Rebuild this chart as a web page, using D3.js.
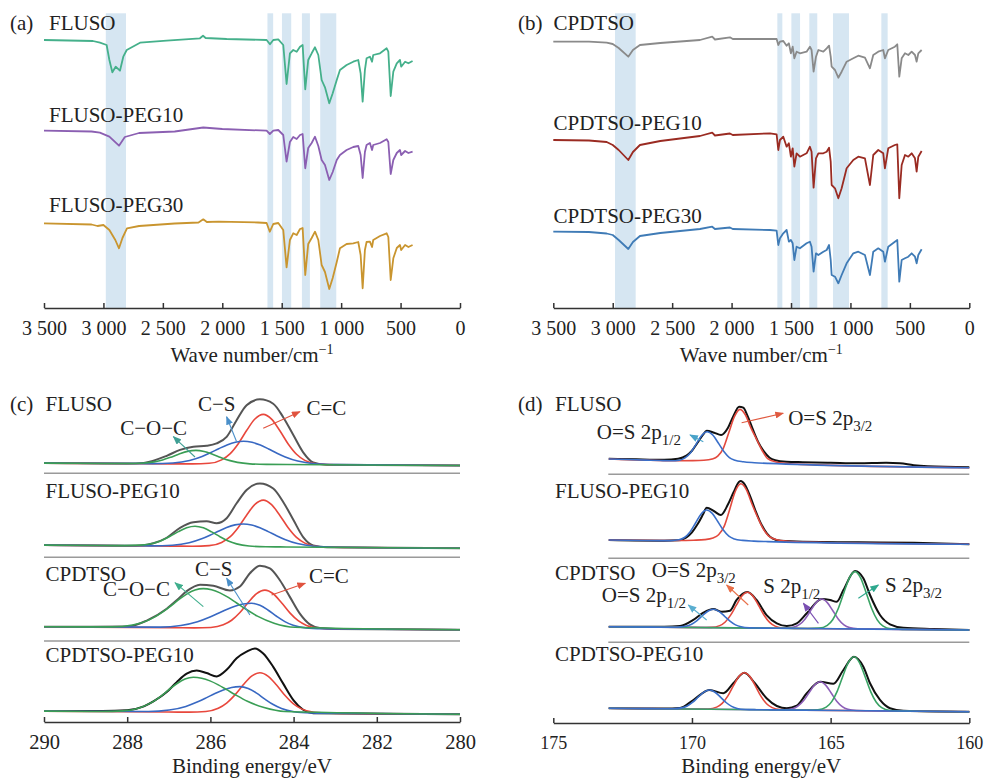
<!DOCTYPE html>
<html><head><meta charset="utf-8">
<script src="https://cdn.jsdelivr.net/npm/d3@7"></script>
<style>body{margin:0;background:#fff}svg{display:block}</style>
</head><body><svg id="c" width="984" height="778"></svg>
<script>
// ---------------- FTIR data: [wavenumber (cm-1), relative transmittance] ----------------
const ftirDomain = [3500, 0];
const ftirTicks = [3500, 3000, 2500, 2000, 1500, 1000, 500, 0];
const ftirTickLabels = ["3 500", "3 000", "2 500", "2 000", "1 500", "1 000", "500", "0"];
const ftirNamesA = ["FLUSO", "FLUSO-PEG10", "FLUSO-PEG30"];
const ftirNamesB = ["CPDTSO", "CPDTSO-PEG10", "CPDTSO-PEG30"];
const bandsA = [[2980, 2810], [1620, 1572], [1498, 1420], [1330, 1263], [1176, 1041]];
const bandsB = [[2981, 2807], [1615, 1573], [1497, 1424], [1346, 1279], [1147, 1012], [740, 687]];

const ftirFLUSO = [[3500,100],[3088,99],[3029,97.3],[2973,95],[2950,80],[2925,67.7],[2897,73.3],[2861,69.3],[2833,83.3],[2804,90],[2692,97.3],[2468,99.3],[2188,101.7],[2162,104.3],[2140,102],[1963,101],[1627,100],[1599,95.7],[1571,100],[1529,100.7],[1487,95],[1459,56],[1431,86.7],[1403,90],[1374,88.3],[1346,93.3],[1324,95],[1302,50.7],[1277,80],[1248,86.7],[1220,92.7],[1192,85],[1164,60],[1136,52.7],[1100,36.7],[1071,46.7],[1037,60],[1010,70],[954,75],[898,78.3],[856,80],[836,66.7],[819,38.3],[800,70],[786,81.7],[758,83.3],[740,78.3],[730,85],[673,86.7],[617,91.7],[603,88.3],[583,44],[561,68.3],[532,76.7],[505,80],[495,73.3],[462,78.3],[434,76.7],[399,79]];
const ftirFLUSO10 = [[3500,100],[3100,99.2],[3030,98],[2950,94],[2869,85],[2820,93.7],[2700,97.7],[2400,99.2],[2160,103.2],[2000,101.7],[1627,100],[1600,96.7],[1571,100],[1529,100.7],[1487,95.7],[1459,69],[1431,88.7],[1403,93.7],[1374,91.7],[1346,95.7],[1324,96.7],[1302,62.4],[1277,82.7],[1248,87.7],[1220,94],[1192,84.7],[1164,70.7],[1136,65.7],[1100,50.7],[1071,58.7],[1037,70.7],[1010,75.7],[954,80.7],[898,83.7],[856,84.7],[836,75.7],[819,52.7],[800,78.7],[786,85.7],[758,87.7],[740,80.7],[730,85.7],[673,87.7],[617,91.4],[603,88.7],[583,56.7],[561,70.7],[532,77.7],[505,80.7],[495,75.7],[462,79.7],[434,77.7],[399,79]];
const ftirFLUSO30 = [[3500,100],[3100,98.8],[3050,97.3],[3000,98.3],[2950,93.3],[2900,83.3],[2869,75],[2840,85.3],[2802,95],[2700,97.3],[2400,99.8],[2200,100.8],[2160,104],[2130,101.3],[2030,101.6],[1700,100.8],[1627,100.3],[1600,91.6],[1571,99.3],[1529,100.3],[1487,93.3],[1459,56],[1431,83.3],[1403,90],[1374,88.3],[1346,94.3],[1324,95.3],[1302,48.3],[1277,79.3],[1248,85.3],[1220,91.6],[1192,83.3],[1164,58.3],[1136,51.3],[1100,34.3],[1071,45.3],[1037,61.3],[1010,75],[954,79.3],[898,80],[856,81.3],[836,68.3],[819,35],[800,73.3],[786,81.3],[758,81.6],[740,76.3],[730,83.3],[673,87.3],[617,90],[603,86.3],[583,43.3],[561,65],[532,75.3],[505,78.3],[495,73.3],[462,78.3],[434,76.3],[399,78.3]];
const ftirCPDTSO = [[3500,100],[3200,100],[3051,99],[3000,97.7],[2950,93.7],[2869,85],[2830,91.7],[2771,96.7],[2600,98.7],[2266,101.7],[2163,105],[2140,102.2],[2014,104.4],[1990,102.7],[1677,102.7],[1621,102.7],[1607,96.7],[1593,100],[1565,100.7],[1537,96],[1518,98.4],[1501,88.4],[1486,95],[1472,83.4],[1453,90],[1425,88.4],[1369,90],[1341,95],[1327,91.7],[1310,70],[1290,85],[1270,91.7],[1228,90],[1200,93.4],[1180,96],[1166,85],[1158,75],[1130,71.7],[1102,64],[1074,70],[1032,80],[976,83.4],[934,86],[878,84],[836,73.4],[808,86.7],[766,90],[724,91.7],[710,83.4],[682,91.7],[626,95],[606,97.4],[589,65],[569,83.4],[541,88.4],[513,86.7],[485,90],[457,86.7],[443,80],[429,88.4],[401,91.7]];
const ftirCPDTSO10 = [[3500,100],[3200,99.5],[3051,98],[3000,95],[2950,90],[2869,80],[2830,88],[2771,95],[2600,99],[2266,104],[2163,107.3],[2140,104.5],[2014,106.5],[1990,105],[1677,106.7],[1621,105.7],[1607,90],[1593,100],[1565,103.3],[1537,93.3],[1518,96.7],[1501,83.3],[1486,91.7],[1472,73.3],[1453,86.7],[1425,83.3],[1369,86.7],[1341,93.3],[1327,88.3],[1310,52.3],[1290,81.7],[1270,86.7],[1228,86.7],[1200,88.3],[1180,92.3],[1166,78.3],[1158,55],[1130,51.7],[1102,41.7],[1074,51.7],[1032,71.7],[976,80],[934,83.3],[878,81.7],[836,55],[808,85],[766,90],[724,86.7],[710,71.7],[682,91.7],[626,95],[606,95.7],[589,41.7],[569,75],[541,85],[513,83.3],[485,86.7],[457,81.7],[443,68.3],[429,83.3],[401,89]];
const ftirCPDTSO30 = [[3500,100],[3200,99.7],[3051,98.2],[3000,96.7],[2950,91.7],[2869,82.7],[2830,89.7],[2771,95.7],[2600,98.7],[2266,102.7],[2163,105],[2140,102.7],[2014,104.2],[1990,102.7],[1677,101.7],[1621,101],[1607,86.7],[1593,93.4],[1565,98.4],[1537,101.7],[1518,90],[1501,91.7],[1486,88.4],[1472,71.7],[1453,85],[1425,83.4],[1369,88.4],[1341,90],[1327,85],[1310,60],[1290,78.4],[1270,76.7],[1228,80],[1200,81.7],[1180,86.7],[1166,71.7],[1158,56.7],[1130,55],[1102,48.4],[1074,56.7],[1032,68.4],[976,78.4],[934,80],[878,76.7],[836,56.7],[808,80],[766,83.4],[724,80],[710,70],[682,85],[626,90],[606,91.7],[589,50],[569,71.7],[541,73.4],[513,75],[485,78.4],[457,75],[443,68.4],[429,76.7],[401,82.4]];

// ---------------- XPS data ----------------
const xpsNames = ["FLUSO", "FLUSO-PEG10", "CPDTSO", "CPDTSO-PEG10"];
const c1sDomain = [290, 280];
const c1sTicks = [290, 288, 286, 284, 282, 280];
const s2pDomain = [175, 160];
const s2pData = [173, 160];
const s2pTicks = [175, 170, 165, 160];
// offsets (eV) from each fitted peak centre at which the component heights below are read
const xpsOffsets = [2.2,1.7,1.3,1.0,0.8,0.6,0.4,0.2,0,-0.2,-0.4,-0.6,-0.8,-1.0,-1.3,-1.7,-2.2];

// C 1s: centres [C−O−C, C−S, C=C]
const c1sCentresFLUSO = [286.35, 285.20, 284.73];
const c1sFLUSO_COC = [0,.04,.46,1.84,3.78,6.62,9.87,12.55,13.6,12.55,9.87,6.62,3.78,1.84,.46,.04,0];
const c1sFLUSO_CS  = [.11,.92,3.5,7.54,11.27,15.41,19.25,21.99,23,21.99,19.25,15.41,11.27,7.54,3.5,.92,.11];
const c1sFLUSO_CC  = [0,.05,.75,4.25,10.3,20.55,33.7,45.3,50,45.3,33.7,20.55,10.3,4.25,.75,.05,0];
const c1sFLUSO_env = [[290,0],[288,0],[287.6,.8],[287.37,3],[287.05,8],[286.73,14],[286.41,17.3],[286.09,18.3],[285.85,20.7],[285.61,27.3],[285.37,44],[285.13,59],[284.81,65],[284.49,60.7],[284.25,47.3],[284.0,29],[283.77,12.3],[283.53,2.3],[283.2,0],[280,0]];

const c1sCentresFLUSO10 = [286.37, 285.21, 284.73];
const c1sFLUSO10_COC = [0,.06,.68,2.7,5.56,9.74,14.52,18.46,20,18.46,14.52,9.74,5.56,2.7,.68,.06,0];
const c1sFLUSO10_CS  = [.1,.91,3.45,7.45,11.12,15.21,19.0,21.7,22.7,21.7,19.0,15.21,11.12,7.45,3.45,.91,.1];
const c1sFLUSO10_CC  = [0,.05,.7,4.0,9.6,19.2,31.5,42.3,46.7,42.3,31.5,19.2,9.6,4.0,.7,.05,0];
const c1sFLUSO10_env = [[290,0],[288,0],[287.6,.7],[287.37,2.7],[287.05,8.3],[286.73,18.3],[286.41,24],[286.09,25],[285.85,23.3],[285.61,28.3],[285.37,43.3],[285.13,56.7],[284.81,63.3],[284.49,58.3],[284.25,45],[284.0,26.7],[283.77,10],[283.53,1.7],[283.2,0],[280,0]];

const c1sCentresCPDTSO = [286.17, 285.01, 284.69];
const c1sCPDTSO_COC = [.37,2.44,7.7,15.0,21.2,27.8,33.7,37.8,39.3,38.2,35.2,30.7,25.2,19.7,12.2,5.3,1.4];
const c1sCPDTSO_CS  = [.47,2.3,6.2,11.0,14.8,18.6,21.9,24.2,25,23.1,18.2,12.2,6.95,3.4,.85,.08,0];
const c1sCPDTSO_CC  = [0,.04,.57,3.3,7.9,15.7,25.8,34.7,38.3,34.7,25.8,15.7,7.9,3.3,.57,.04,0];
const c1sCPDTSO_env = [[290,0],[288,.8],[287.53,7],[287.05,19],[286.81,27.5],[286.57,36.7],[286.25,43.3],[285.93,42.3],[285.53,37.7],[285.29,41.7],[285.05,55],[284.81,62.7],[284.57,60],[284.33,48.3],[284.09,31.7],[283.85,15],[283.61,4.3],[283.37,.7],[283,0],[280,0]];

const c1sCentresCPDTSO10 = [286.41, 285.29, 284.81];
const c1sCPDTSO10_COC = [.06,.8,3.9,9.5,15.2,21.9,28.4,33.2,35,34.1,31.5,27.6,22.9,18.1,11.4,5.2,1.4];
const c1sCPDTSO10_CS  = [.35,2.0,5.8,10.7,14.7,18.9,22.5,25.1,26,24.2,19.6,13.7,8.3,4.4,1.3,.16,0];
const c1sCPDTSO10_CC  = [0,.06,.9,4.2,9.4,17.7,27.8,36.5,40,36.5,27.8,17.7,9.4,4.2,.9,.06,0];
const c1sCPDTSO10_env = [[290,0],[288.6,.5],[288,1.5],[287.6,5.5],[287.37,10.5],[287.05,20],[286.81,30],[286.57,38.5],[286.33,41.7],[286.09,39.3],[285.85,36],[285.61,42.7],[285.37,54.3],[285.13,61],[284.93,64.3],[284.73,59.3],[284.49,46],[284.25,29.3],[284.0,12.7],[283.77,3.3],[283.53,0],[280,0]];
// sloping background of each C 1s trace: [BE, intensity]
const c1sBackground = [[[290,1.2],[280,-1.2]],[[290,1.6],[280,-1.6]],[[290,1.5],[280,-1.5]],[[290,1.6],[280,-1.6]]];

// S 2p: centres [O=S 2p1/2, O=S 2p3/2] or [O=S 2p1/2, O=S 2p3/2, S 2p1/2, S 2p3/2]
const s2pCentresFLUSO = [169.45, 168.27];
const s2pFLUSO_OS12 = [0,0,.1,.9,3.3,8.7,17.4,26.3,30.2,27.0,19.2,10.9,5.0,2.5,1.2,.6,.3];
const s2pFLUSO_OS32 = [.3,.8,1.5,3,6,14,30,46,53.5,48,35,24,13,5,2,.8,.3];
const s2pFLUSO_env = [[173,.3],[172,.5],[171,.9],[170.5,2.3],[170.2,5.6],[170,10.7],[169.8,18.9],[169.6,27.1],[169.47,31.2],[169.2,29.4],[168.95,27.3],[168.7,34.8],[168.5,47],[168.3,56.1],[168.15,55.3],[168.0,47.4],[167.8,33.5],[167.6,20.7],[167.4,11.9],[167.2,6],[167.0,3.7],[166.6,2.5],[166,2.5],[165,2.5],[164,2.5],[163,3.5],[162.5,3.2],[162,1.5],[161.5,.75],[160,.5]];

const s2pCentresFLUSO10 = [169.47, 168.24];
const s2pFLUSO10_OS12 = [0,0,.1,1.0,3.4,9,18,27.2,31.2,27.9,19.8,11.3,5.2,2.6,1.2,.6,.3];
const s2pFLUSO10_OS32 = [.3,.8,1.5,3.2,6.5,15,32,50,57.8,52,38,25,13.5,6,2.2,.8,.3];
const s2pFLUSO10_env = [[173,0],[171,0],[170.5,.5],[170.2,3.6],[170,8.7],[169.8,16.8],[169.6,26.8],[169.47,33.5],[169.2,30],[168.96,26.3],[168.7,37.1],[168.5,49.2],[168.3,59.8],[168.24,60.6],[168.1,57.3],[167.9,45.3],[167.7,30.4],[167.5,17.5],[167.3,8.6],[167.1,3.6],[166.8,1.2],[166,.5],[164,.7],[162,.8],[160,0]];

const s2pCentresCPDTSO = [169.23, 168.0, 165.32, 164.12];
const s2pCPDTSO_OS12 = [0,0,.15,1.1,3.0,6.6,11.7,16.4,18.4,16.4,11.7,6.6,3.0,1.1,.15,0,0];
const s2pCPDTSO_OS32 = [0,0,.3,2.1,5.8,12.9,22.7,31.9,35.7,31.9,22.7,12.9,5.8,2.1,.3,0,0];
const s2pCPDTSO_S12  = [0,0,.15,1.3,4.0,9.6,18.0,26.1,29.6,26.1,18.0,9.6,4.0,1.3,.15,0,0];
const s2pCPDTSO_S32  = [0,.02,.48,3.4,9.3,20.6,36.4,51.2,57.3,51.2,36.4,20.6,9.3,3.4,.48,.02,0];
const s2pCPDTSO_env = [[173,0],[171,.5],[170.43,1.3],[169.95,7.5],[169.59,14.9],[169.23,18.7],[168.93,16],[168.63,17.1],[168.39,27.9],[168.0,36],[167.67,28.1],[167.31,13.1],[166.94,4.9],[166.58,2.3],[166.22,5.1],[165.86,15.2],[165.32,29.6],[165.02,28.7],[164.78,27],[164.54,38.8],[164.12,58],[163.82,50.7],[163.58,34.1],[163.22,14.2],[162.86,5],[162.38,1.7],[161.3,.7],[160,0]];

const s2pCentresCPDTSO10 = [169.37, 168.11, 165.38, 164.16];
const s2pCPDTSO10_OS12 = [0,0,.16,1.1,3.1,6.9,12.2,17.1,19.2,17.1,12.2,6.9,3.1,1.1,.16,0,0];
const s2pCPDTSO10_OS32 = [0,0,.3,2.2,6.0,13.3,23.5,33.0,36.9,33.0,23.5,13.3,6.0,2.2,.3,0,0];
const s2pCPDTSO10_S12  = [0,0,.14,1.26,3.9,9.3,17.4,25.2,28.6,25.2,17.4,9.3,3.9,1.26,.14,0,0];
const s2pCPDTSO10_S32  = [0,.02,.45,3.2,8.8,19.4,34.3,48.1,53.9,48.1,34.3,19.4,8.8,3.2,.45,.02,0];
const s2pCPDTSO10_env = [[173,0],[171,.3],[170.43,1],[169.95,9.1],[169.37,19.2],[168.87,16.1],[168.51,26.2],[168.11,36.9],[167.73,26.4],[167.31,11.5],[166.94,3.9],[166.58,1.7],[166.22,4.4],[165.86,16.9],[165.38,28.6],[164.9,26.7],[164.54,40.5],[164.16,53.9],[163.82,44],[163.58,27.5],[163.22,10.9],[162.86,2.7],[162.38,.4],[160,0]];
const s2pBackground = [[[173,8.7],[166,3],[160,0]],[[173,4.3],[160,0]],[[173,3.3],[160,0]],[[173,3.4],[160,0]]];

// annotations in data units: [row, text, subscript, textBE, textLevel, arrow fromBE, fromLevel, toBE, toLevel, colour]
const c1sNotes = [
  [0,"C−O−C","",288.17,29.3,286.37,7.3,286.89,27.6,"#3f9f94"],
  [0,"C−S","",286.30,53.6,285.37,22.6,285.61,47.6,"#4a8fc9"],
  [0,"C=C","",283.69,49.3,284.73,36,283.85,52.6,"#e0523e"],
  [2,"C−O−C","",288.58,32.3,286.17,21.6,286.85,45.6,"#3fae8c"],
  [2,"C−S","",286.37,52.3,285.05,13.3,285.61,50,"#4a8fc9"],
  [2,"C=C","",283.63,45.6,284.53,33.3,283.72,45,"#e0523e"]
];
const s2pNotes = [
  [0,"O=S 2p","1/2",173.43,28.4,169.59,26,170.07,32.7,"#4aa3c9"],
  [0,"O=S 2p","3/2",166.53,42.7,168.21,45,166.71,54.4,"#e05a40"],
  [2,"O=S 2p","3/2",171.45,53.3,167.97,25,168.75,45,"#e8704a"],
  [2,"O=S 2p","1/2",173.25,28.3,169.47,10,170.13,25,"#5aaed0"],
  [2,"S 2p","1/2",167.43,37,165.44,6.7,165.98,26.7,"#7a4fb2"],
  [2,"S 2p","3/2",163.04,38.3,164.0,31.7,163.28,45,"#2ea88e"]
];

// ---------------- layout ----------------
const FONT = '"Liberation Serif","Times New Roman",serif';
const FS = 21;
const LAY = {
  a: {x0: 44, x1: 460, axisY: 308, top: 13.3, rows: [40, 130.7, 223.3], labels: [30, 121.7, 211.7], labelX: 49, letterX: 10, letter: "(a)", titleY: 362, tickFS: 20, tickPad: 12.8},
  b: {x0: 553.3, x1: 969.3, axisY: 308, top: 13.3, rows: [41.7, 140, 231.7], labels: [30, 130, 223.3], labelX: 553.5, letterX: 518, letter: "(b)", titleY: 362, tickFS: 20, tickPad: 12.8},
  c: {x0: 44, x1: 460, axisY: 722, rows: [464.3, 546.7, 628.3, 712.7], labels: [410.5, 498, 580.5, 661.5], labelX: 45.5, letterX: 10, letter: "(c)", seps: [473.3, 557.3, 641], sepX0: 44, titleY: 773, tickFS: 20.5, tickPad: 12.5},
  d: {x0: 553.3, x1: 969.3, axisY: 723, rows: [467.7, 544.3, 630, 711.7], labels: [410.5, 497.5, 579.5, 660.5], labelX: 555, letterX: 518, letter: "(d)", seps: [474.3, 558.3, 642.3], sepX0: 608.3, titleY: 773, tickFS: 18, tickPad: 13}
};

const svg = d3.select("#c");
svg.append("rect").attr("width", 984).attr("height", 778).attr("fill", "#fff");
const defs = svg.append("defs");
const markers = {};
function marker(color) {
  if (!markers[color]) {
    const id = "m" + color.slice(1);
    defs.append("marker").attr("id", id).attr("viewBox", "0 0 10 8").attr("refX", 9).attr("refY", 4)
      .attr("markerWidth", 9).attr("markerHeight", 7).attr("markerUnits", "userSpaceOnUse").attr("orient", "auto")
      .append("path").attr("d", "M0,0 L10,4 L0,8 Z").attr("fill", color);
    markers[color] = `url(#${id})`;
  }
  return markers[color];
}
function txt(g, x, y, s) {
  return g.append("text").attr("x", x).attr("y", y).attr("font-family", FONT).attr("font-size", FS).attr("fill", "#222").text(s);
}
function axis(g, x, P, ticks, fmt) {
  const ax = d3.axisBottom(x).tickValues(ticks).tickFormat(fmt).tickSize(-5).tickSizeOuter(0).tickPadding(P.tickPad);
  const ga = g.append("g").attr("transform", `translate(0,${P.axisY})`).call(ax);
  ga.attr("font-family", FONT).attr("font-size", P.tickFS);
  ga.select(".domain").attr("stroke", "#333").attr("stroke-width", 1.5);
  ga.selectAll(".tick line").attr("stroke", "#333").attr("stroke-width", 1.5);
  ga.selectAll(".tick text").attr("fill", "#222").style("white-space", "pre");
}

function drawFTIR(P, bands, series, colors, names) {
  const g = svg.append("g");
  const x = d3.scaleLinear().domain(ftirDomain).range([P.x0, P.x1]);
  g.selectAll("rect.band").data(bands).join("rect").attr("class", "band")
    .attr("x", d => x(d[0])).attr("width", d => x(d[1]) - x(d[0]))
    .attr("y", P.top).attr("height", P.axisY - P.top).attr("fill", "#d6e6f2");
  series.forEach((s, i) => {
    const y = d3.scaleLinear().domain([0, 100]).range([P.rows[i] + 100, P.rows[i]]);
    g.append("path").datum(s).attr("fill", "none").attr("stroke", colors[i]).attr("stroke-width", 1.8)
      .attr("stroke-linejoin", "round").attr("d", d3.line().x(d => x(d[0])).y(d => y(d[1])));
    txt(g, P.labelX, P.labels[i], names[i]);
  });
  axis(g, x, P, ftirTicks, (d, i) => ftirTickLabels[i]);
  txt(g, P.letterX, P.labels[0], P.letter);
  const t = txt(g, (P.x0 + P.x1) / 2, P.titleY, "Wave number/cm").attr("text-anchor", "middle");
  t.append("tspan").attr("font-size", 14).attr("dy", -8).text("−1");
}

function drawXPS(P, domain, dataRange, ticks, rows, bgs, notes) {
  const g = svg.append("g");
  const x = d3.scaleLinear().domain(domain).range([P.x0, P.x1]);
  P.seps.forEach(s => g.append("line").attr("x1", P.sepX0).attr("x2", P.x1).attr("y1", s).attr("y2", s)
    .attr("stroke", "#9a9a9a").attr("stroke-width", 1.6));
  rows.forEach((r, i) => {
    const y = d3.scaleLinear().domain([0, 100]).range([P.rows[i], P.rows[i] - 100]);
    const bg = d3.scaleLinear().domain(bgs[i].map(d => d[0])).range(bgs[i].map(d => d[1]));
    const line = d3.line().x(d => x(d[0])).y(d => y(d[1] + bg(d[0]))).curve(d3.curveMonotoneX);
    g.append("path").datum(r.env).attr("fill", "none").attr("stroke", r.envColor).attr("stroke-width", 2).attr("d", line);
    r.comps.forEach(c => {
      const pts = xpsOffsets.map((o, k) => [c.centre + o, c.vals[k]]).filter(d => d[0] < dataRange[0] && d[0] > dataRange[1]);
      pts.unshift([dataRange[0], 0]);
      pts.push([dataRange[1], 0]);
      g.append("path").datum(pts).attr("fill", "none").attr("stroke", c.color).attr("stroke-width", 1.6).attr("d", line);
    });
    txt(g, P.labelX, P.labels[i], xpsNames[i]);
  });
  notes.forEach(n => {
    const y = d3.scaleLinear().domain([0, 100]).range([P.rows[n[0]], P.rows[n[0]] - 100]);
    g.append("line").attr("x1", x(n[5])).attr("y1", y(n[6])).attr("x2", x(n[7])).attr("y2", y(n[8]))
      .attr("stroke", n[9]).attr("stroke-width", 1.1).attr("marker-end", marker(n[9]));
    const t = txt(g, x(n[3]), y(n[4]), n[1]);
    if (n[2]) t.append("tspan").attr("font-size", 15).attr("dy", 6).text(n[2]);
  });
  axis(g, x, P, ticks, d => String(d));
  txt(g, P.letterX, P.labels[0], P.letter);
  txt(g, (P.x0 + P.x1) / 2, P.titleY, "Binding energy/eV").attr("text-anchor", "middle");
}

drawFTIR(LAY.a, bandsA, [ftirFLUSO, ftirFLUSO10, ftirFLUSO30], ["#45b08b", "#8b5fb2", "#c9952f"], ftirNamesA);
drawFTIR(LAY.b, bandsB, [ftirCPDTSO, ftirCPDTSO10, ftirCPDTSO30], ["#8a8a8a", "#9a2b22", "#3f7bb6"], ftirNamesB);

const cRed = "#e8473c", cBlue = "#3868c2", cGreen = "#3a9e55";
const mk = (centres, arrs, cols) => arrs.map((a, k) => ({centre: centres[k], vals: a, color: cols[k]}));
drawXPS(LAY.c, c1sDomain, c1sDomain, c1sTicks, [
  {env: c1sFLUSO_env, envColor: "#555", comps: mk(c1sCentresFLUSO, [c1sFLUSO_COC, c1sFLUSO_CS, c1sFLUSO_CC], [cGreen, cBlue, cRed]).reverse()},
  {env: c1sFLUSO10_env, envColor: "#555", comps: mk(c1sCentresFLUSO10, [c1sFLUSO10_COC, c1sFLUSO10_CS, c1sFLUSO10_CC], [cGreen, cBlue, cRed]).reverse()},
  {env: c1sCPDTSO_env, envColor: "#555", comps: mk(c1sCentresCPDTSO, [c1sCPDTSO_COC, c1sCPDTSO_CS, c1sCPDTSO_CC], [cGreen, cBlue, cRed]).reverse()},
  {env: c1sCPDTSO10_env, envColor: "#111", comps: mk(c1sCentresCPDTSO10, [c1sCPDTSO10_COC, c1sCPDTSO10_CS, c1sCPDTSO10_CC], [cGreen, cBlue, cRed]).reverse()}
], c1sBackground, c1sNotes);

const dRed = "#e34a3e", dBlue = "#3a6fc9", dPurple = "#8d5fb8", dGreen = "#3aa365";
drawXPS(LAY.d, s2pDomain, s2pData, s2pTicks, [
  {env: s2pFLUSO_env, envColor: "#111", comps: mk([s2pCentresFLUSO[1], s2pCentresFLUSO[0]], [s2pFLUSO_OS32, s2pFLUSO_OS12], [dRed, dBlue])},
  {env: s2pFLUSO10_env, envColor: "#111", comps: mk([s2pCentresFLUSO10[1], s2pCentresFLUSO10[0]], [s2pFLUSO10_OS32, s2pFLUSO10_OS12], [dRed, dBlue])},
  {env: s2pCPDTSO_env, envColor: "#111", comps: mk([s2pCentresCPDTSO[1], s2pCentresCPDTSO[2], s2pCentresCPDTSO[3], s2pCentresCPDTSO[0]], [s2pCPDTSO_OS32, s2pCPDTSO_S12, s2pCPDTSO_S32, s2pCPDTSO_OS12], [dRed, dPurple, dGreen, dBlue])},
  {env: s2pCPDTSO10_env, envColor: "#111", comps: mk([s2pCentresCPDTSO10[1], s2pCentresCPDTSO10[2], s2pCentresCPDTSO10[3], s2pCentresCPDTSO10[0]], [s2pCPDTSO10_OS32, s2pCPDTSO10_S12, s2pCPDTSO10_S32, s2pCPDTSO10_OS12], [dRed, dPurple, dGreen, dBlue])}
], s2pBackground, s2pNotes);
</script></body></html>
